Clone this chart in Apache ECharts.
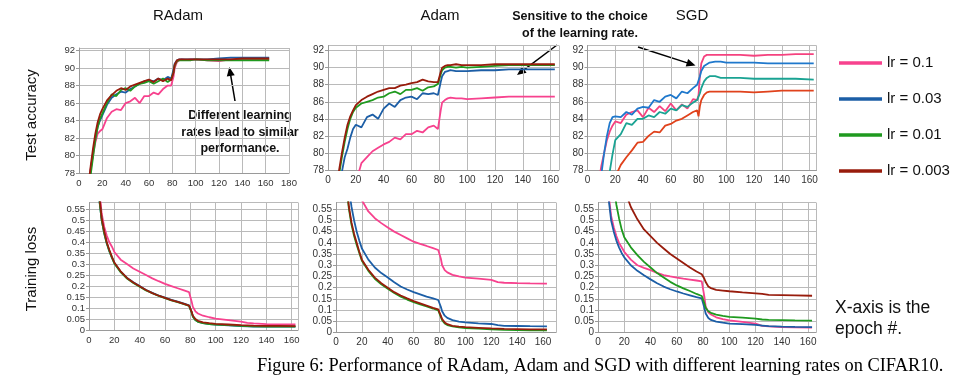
<!DOCTYPE html>
<html>
<head>
<meta charset="utf-8">
<script src="https://cdn.jsdelivr.net/npm/echarts@6/dist/echarts.min.js"></script>
<style>
html,body{margin:0;padding:0;background:#fff;}
#chart{width:968px;height:382px;}
</style>
</head>
<body>
<div id="chart"></div>
<script>
// ---------- data ----------
const lrNames = ['lr = 0.1', 'lr = 0.03', 'lr = 0.01', 'lr = 0.003'];
const panelTitles = ['RAdam', 'Adam', 'SGD'];
const xTicks = [0, 20, 40, 60, 80, 100, 120, 140, 160, 180];

const accEpochs = [6,8,10,12,14,16,18,20,24,28,32,36,40,44,48,52,56,60,64,68,72,76,79,80,81,82,84,86,88,92,96,100,110,120,130,140,150,163];
const lossEpochs = [6,8,10,12,14,16,18,20,25,30,35,40,45,50,55,60,65,70,75,79,80,81,82,84,86,90,95,100,110,120,125,130,140,150,163];

// RAdam test accuracy
const radamAcc01  = [74,76.5,78.5,80,81.5,82.5,82.8,83.0,84.3,85.0,85.3,85.2,86.0,86.2,86.6,86.0,86.8,86.8,87.2,87.0,87.6,88.0,88.0,88.2,89.0,90.0,90.7,90.9,91.0,90.9,91.0,91.0,90.9,90.8,91.0,91.0,91.0,91.0];
const radamAcc003 = [73.5,76,78.3,80.3,82.0,83.3,84.0,84.6,85.8,86.6,87.0,87.3,87.2,87.6,87.9,88.2,88.5,88.6,88.5,88.8,88.6,89.0,88.8,88.9,89.8,90.5,90.9,91.0,91.0,91.0,91.0,91.0,91.0,91.1,91.2,91.2,91.2,91.2];
const radamAcc001 = [73,75.5,77.8,79.8,81.8,83.2,84.2,84.8,86.0,87.0,86.8,87.5,87.7,87.4,87.9,88.2,88.3,88.5,88.2,88.5,88.8,88.4,88.7,88.6,89.5,90.3,90.8,90.9,90.9,90.9,90.9,91.0,90.9,90.9,90.9,90.9,90.9,90.9];
const radamAcc0003= [74,76.5,78.8,80.8,82.5,83.8,84.7,85.3,86.3,86.9,87.4,87.7,87.5,87.9,88.1,88.3,88.5,88.7,88.4,88.8,88.5,88.8,88.6,88.5,89.5,90.4,90.9,91.0,91.0,91.0,91.0,91.0,91.0,91.0,91.0,91.1,91.1,91.1];

// Adam test accuracy
const adamAcc01   = [70,70.5,71,72,73,74,75,76.5,78.8,79.5,80.2,80.6,81.0,81.3,81.8,81.6,82.2,82.2,82.6,82.4,83.0,83.2,82.8,83.0,85.0,85.9,86.2,86.4,86.5,86.4,86.4,86.3,86.4,86.5,86.6,86.6,86.6,86.6];
const adamAcc003  = [74,75.5,77.8,79.5,80.5,81.8,82.8,83.3,83.0,84.2,84.5,84.0,85.2,85.8,85.4,86.2,86.5,86.6,86.3,87.0,86.9,87.0,86.8,87.0,88.3,89.0,89.5,89.6,89.7,89.6,89.6,89.6,89.7,89.7,89.8,89.8,89.8,89.8];
const adamAcc001  = [75,77.5,79.5,81.3,82.8,84.0,84.8,85.3,85.8,86.0,86.2,86.5,86.6,87.0,87.2,86.9,87.4,87.4,87.6,87.3,87.7,87.8,88.1,88.2,89.2,89.7,90.0,90.1,90.1,90.0,90.1,90.0,90.1,90.2,90.3,90.3,90.3,90.3];
const adamAcc0003 = [75.5,78,80,81.8,83.3,84.3,85.0,85.6,86.2,86.6,86.9,87.2,87.4,87.6,87.6,87.9,88.0,88.2,88.3,88.6,88.4,88.3,88.3,88.4,89.5,90.0,90.2,90.3,90.3,90.4,90.3,90.3,90.3,90.4,90.4,90.4,90.4,90.4];

// SGD test accuracy
const sgdAcc01   = [74,76.5,78.5,80,81.5,82.5,83.2,83.7,83.5,84.5,84.8,85.0,84.2,85.3,84.8,85.5,84.9,85.8,85.0,85.7,85.2,86.3,86.2,86.8,89.0,90.5,91.3,91.5,91.5,91.5,91.5,91.5,91.5,91.4,91.5,91.5,91.6,91.6];
const sgdAcc003  = [73,75,77.5,80.0,82.0,83.5,84.2,84.3,84.2,84.8,84.5,85.2,85.4,85.3,86.2,86.0,86.6,86.8,86.4,87.2,87.0,87.6,88.0,88.2,89.0,89.6,90.2,90.4,90.6,90.7,90.7,90.6,90.6,90.6,90.5,90.5,90.5,90.5];
const sgdAcc001  = [70,72,73.5,75,76.5,77.8,79.8,81.5,82.2,83.5,83.3,84.0,84.0,84.4,84.2,84.8,84.6,85.2,85.0,85.6,85.4,85.9,86.2,86.3,87.0,87.6,88.4,88.8,89.0,89.0,88.8,88.8,88.8,88.7,88.7,88.7,88.7,88.6];
const sgdAcc0003 = [68,69.5,71,72.5,74,75.2,76.3,77.2,78.6,79.5,80.3,81.2,81.3,82.0,82.5,82.4,83.2,83.4,83.8,84.0,84.4,84.8,85.0,84.3,85.5,86.2,86.8,87.1,87.2,87.2,87.2,87.2,87.2,87.1,87.2,87.3,87.3,87.3];

// RAdam training loss
const radamLoss01   = [0.8,0.65,0.53,0.47,0.43,0.40,0.38,0.355,0.32,0.3,0.28,0.265,0.25,0.235,0.222,0.21,0.2,0.19,0.18,0.172,0.165,0.13,0.105,0.085,0.075,0.065,0.058,0.052,0.045,0.038,0.032,0.03,0.027,0.026,0.025];
const radamLoss003  = [0.8,0.6,0.5,0.44,0.395,0.36,0.33,0.305,0.265,0.237,0.217,0.2,0.182,0.169,0.157,0.147,0.137,0.129,0.12,0.112,0.108,0.082,0.062,0.046,0.038,0.031,0.027,0.024,0.021,0.018,0.017,0.016,0.016,0.015,0.015];
const radamLoss001  = [0.8,0.6,0.5,0.44,0.395,0.36,0.33,0.303,0.263,0.234,0.214,0.197,0.18,0.167,0.155,0.145,0.135,0.127,0.118,0.11,0.106,0.08,0.06,0.045,0.037,0.031,0.027,0.025,0.022,0.019,0.018,0.017,0.016,0.016,0.015];
const radamLoss0003 = [0.82,0.62,0.51,0.45,0.4,0.365,0.335,0.307,0.267,0.237,0.216,0.199,0.182,0.168,0.156,0.146,0.136,0.128,0.119,0.111,0.107,0.084,0.065,0.05,0.042,0.035,0.031,0.028,0.025,0.022,0.021,0.02,0.019,0.019,0.018];

// Adam training loss
const adamLoss01   = [1.2,1.05,0.92,0.82,0.74,0.68,0.63,0.59,0.54,0.51,0.488,0.468,0.45,0.435,0.42,0.405,0.395,0.386,0.376,0.368,0.36,0.33,0.3,0.278,0.268,0.257,0.25,0.245,0.24,0.235,0.225,0.222,0.22,0.219,0.218];
const adamLoss003  = [0.9,0.75,0.64,0.56,0.5,0.45,0.41,0.375,0.325,0.29,0.265,0.245,0.224,0.205,0.192,0.18,0.17,0.16,0.152,0.145,0.14,0.115,0.095,0.075,0.065,0.055,0.049,0.045,0.041,0.038,0.033,0.03,0.029,0.028,0.027];
const adamLoss001  = [0.8,0.65,0.55,0.48,0.43,0.39,0.355,0.32,0.275,0.24,0.215,0.195,0.176,0.16,0.147,0.135,0.125,0.116,0.107,0.099,0.095,0.07,0.055,0.04,0.033,0.027,0.023,0.02,0.017,0.014,0.013,0.012,0.011,0.01,0.01];
const adamLoss0003 = [0.82,0.67,0.56,0.49,0.44,0.4,0.36,0.325,0.28,0.245,0.22,0.2,0.18,0.165,0.152,0.14,0.13,0.12,0.11,0.103,0.1,0.075,0.06,0.045,0.037,0.03,0.026,0.024,0.021,0.018,0.017,0.016,0.015,0.014,0.014];

// SGD training loss
const sgdLoss01   = [0.8,0.62,0.52,0.47,0.43,0.4,0.38,0.36,0.325,0.3,0.288,0.278,0.266,0.256,0.25,0.245,0.24,0.236,0.232,0.228,0.225,0.16,0.115,0.09,0.08,0.068,0.06,0.054,0.047,0.04,0.03,0.027,0.024,0.023,0.022];
const sgdLoss003  = [0.78,0.6,0.5,0.45,0.41,0.38,0.355,0.335,0.3,0.275,0.255,0.237,0.22,0.205,0.193,0.183,0.174,0.166,0.158,0.152,0.148,0.11,0.085,0.065,0.056,0.049,0.044,0.04,0.037,0.034,0.031,0.028,0.026,0.025,0.024];
const sgdLoss001  = [1.1,0.9,0.76,0.65,0.57,0.51,0.46,0.425,0.38,0.345,0.315,0.29,0.265,0.245,0.226,0.21,0.197,0.185,0.172,0.163,0.16,0.13,0.11,0.095,0.088,0.08,0.074,0.07,0.066,0.062,0.058,0.056,0.055,0.054,0.053];
const sgdLoss0003 = [1.5,1.3,1.1,0.97,0.86,0.78,0.7,0.64,0.56,0.505,0.46,0.43,0.4,0.375,0.35,0.33,0.31,0.29,0.272,0.26,0.255,0.24,0.225,0.205,0.198,0.19,0.187,0.184,0.179,0.175,0.172,0.168,0.167,0.166,0.164];

// ---------- build ----------
const mainColors = ['#f7428e', '#1c5ea6', '#1f9a1f', '#981c0c'];
const sgdAccColors = ['#f5427f', '#1f78cc', '#1aa393', '#e0421c'];

const panels = [
  { epochs: accEpochs,  vals: [radamAcc01, radamAcc003, radamAcc001, radamAcc0003], colors: mainColors },
  { epochs: accEpochs,  vals: [adamAcc01, adamAcc003, adamAcc001, adamAcc0003], colors: mainColors },
  { epochs: accEpochs,  vals: [sgdAcc01, sgdAcc003, sgdAcc001, sgdAcc0003], colors: sgdAccColors },
  { epochs: lossEpochs, vals: [radamLoss01, radamLoss003, radamLoss001, radamLoss0003], colors: mainColors },
  { epochs: lossEpochs, vals: [adamLoss01, adamLoss003, adamLoss001, adamLoss0003], colors: mainColors },
  { epochs: lossEpochs, vals: [sgdLoss01, sgdLoss003, sgdLoss001, sgdLoss0003], colors: mainColors }
];

const grids = [
  { left: 79,    top: 48,    width: 210, height: 125 },
  { left: 328,   top: 45.5,  width: 231, height: 124.5 },
  { left: 587.5, top: 45.5,  width: 229, height: 124.5 },
  { left: 89,    top: 202.5, width: 209, height: 127.5 },
  { left: 336,   top: 202.5, width: 220, height: 130 },
  { left: 598,   top: 202.5, width: 218, height: 130 }
];
const xMax = [180, 166, 165, 165, 170, 166];
const yRange = [[78, 92.3], [78, 92.6], [78, 92.6], [0, 0.58], [0, 0.58], [0, 0.58]];
const yInt = [2, 2, 2, 0.05, 0.05, 0.05];
const labelSize = [9.5, 10, 10, 9.5, 10, 10];

const gridLine = { show: true, lineStyle: { color: '#bababa', width: 1 } };
const axisLine = { show: true, lineStyle: { color: '#9a9a9a', width: 1 } };

const xAxes = grids.map((g, i) => ({
  type: 'value', gridIndex: i, min: 0, max: xMax[i], interval: 20,
  axisLine: axisLine, axisTick: { show: false }, splitLine: gridLine,
  axisLabel: { fontSize: labelSize[i], color: '#333', margin: 5, showMaxLabel: xMax[i] % 20 === 0,
               fontFamily: 'Liberation Sans',
               formatter: v => (xTicks.indexOf(v) >= 0 ? String(v) : '') }
}));
const yAxes = grids.map((g, i) => ({
  type: 'value', gridIndex: i, min: yRange[i][0], max: yRange[i][1], interval: yInt[i],
  axisLine: axisLine, axisTick: { show: true, length: 3, lineStyle: { color: '#9a9a9a' } },
  splitLine: gridLine,
  axisLabel: { fontSize: labelSize[i], color: '#333', margin: 4, showMaxLabel: false,
               fontFamily: 'Liberation Sans',
               formatter: v => String(parseFloat(Number(v).toFixed(2))) }
}));

const series = [];
panels.forEach((p, pi) => {
  p.vals.forEach((vals, si) => {
    series.push({
      type: 'line', name: lrNames[si], xAxisIndex: pi, yAxisIndex: pi,
      data: p.epochs.map((e, k) => [e, vals[k]]),
      showSymbol: false, clip: true, silent: true,
      lineStyle: { width: 1.8, color: p.colors[si] },
      itemStyle: { color: p.colors[si] },
      z: 2 + si
    });
  });
});

function arrow(x1, y1, x2, y2) {
  const dx = x2 - x1, dy = y2 - y1, L = Math.hypot(dx, dy);
  const ux = dx / L, uy = dy / L, nx = -uy, ny = ux;
  const bx = x2 - 9 * ux, by = y2 - 9 * uy;
  return [
    { type: 'line', shape: { x1: x1, y1: y1, x2: bx + 2 * ux, y2: by + 2 * uy }, style: { stroke: '#000', lineWidth: 1.5 } },
    { type: 'polygon', shape: { points: [[x2, y2], [bx + 4 * nx, by + 4 * ny], [bx - 4 * nx, by - 4 * ny]] }, style: { fill: '#000' } }
  ];
}
function txt(x, y, text, opts) {
  return Object.assign({ type: 'text', x: x, y: y,
    style: Object.assign({ text: text, fill: '#111', fontFamily: 'Liberation Sans', fontSize: 15,
      align: 'center', verticalAlign: 'middle' }, opts || {}) });
}

const bold = { fontWeight: 'bold', fontSize: 12.5 };
const graphic = [
  txt(178, 16, panelTitles[0]),
  txt(440, 16, panelTitles[1]),
  txt(692, 16, panelTitles[2]),
  Object.assign(txt(32, 115, 'Test accuracy'), { rotation: Math.PI / 2 }),
  Object.assign(txt(32, 269, 'Training loss'), { rotation: Math.PI / 2 }),
  txt(240, 116, 'Different learning', bold),
  txt(240, 132.5, 'rates lead to similar', bold),
  txt(240, 149, 'performance.', bold),
  txt(580, 17, 'Sensitive to the choice', bold),
  txt(580, 34, 'of the learning rate.', bold),
  txt(835, 308, 'X-axis is the', { align: 'left', fontSize: 17.5 }),
  txt(835, 329, 'epoch #.', { align: 'left', fontSize: 17.5 }),
  txt(257, 366, 'Figure 6: Performance of RAdam, Adam and SGD with different learning rates on CIFAR10.',
      { align: 'left', fontSize: 18.4, fontFamily: 'Liberation Serif', fill: '#000' })
].concat(arrow(235, 101, 229.3, 67), arrow(557, 45, 517, 75), arrow(638, 47, 695.5, 65.5));

const chart = echarts.init(document.getElementById('chart'), null, { renderer: 'canvas' });
chart.setOption({
  animation: false,
  backgroundColor: '#fff',
  grid: grids.map(g => Object.assign({ containLabel: false }, g)),
  xAxis: xAxes,
  yAxis: yAxes,
  legend: {
    data: lrNames, orient: 'vertical', left: 834, top: 49, itemWidth: 43, itemHeight: 3.5,
    icon: 'rect', itemGap: 18, selectedMode: false,
    textStyle: { fontSize: 15, color: '#111', fontFamily: 'Liberation Sans', lineHeight: 18 }
  },
  series: series,
  graphic: graphic
});
</script>
</body>
</html>
